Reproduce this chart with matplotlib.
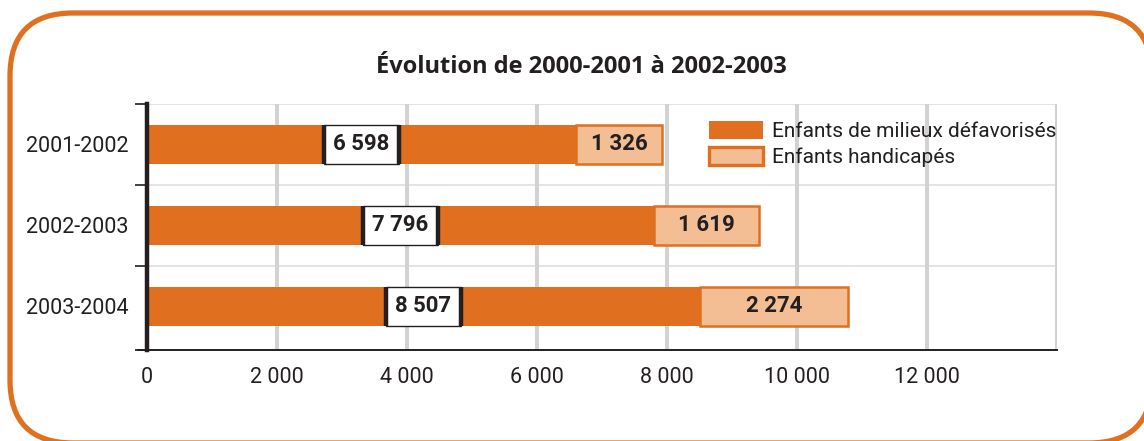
import matplotlib
matplotlib.use("Agg")
import matplotlib.pyplot as plt
from matplotlib.patches import Rectangle, FancyBboxPatch, Patch
from matplotlib.font_manager import fontManager
import numpy as np

categories = ["2001-2002", "2002-2003", "2003-2004"]
defavorises = [6598, 7796, 8507]
handicapes = [1326, 1619, 2274]
xticks = [0, 2000, 4000, 6000, 8000, 10000, 12000]
xtick_labels = ["0", "2 000", "4 000", "6 000", "8 000", "10 000", "12 000"]
title = "Évolution de 2000-2001 à 2002-2003"
legend_labels = ["Enfants de milieux défavorisés", "Enfants handicapés"]

ORANGE = "#e0701f"
LIGHT = "#f3be94"
DARK = "#231f20"
GRID_V = "#d2d2d2"
GRID_H = "#e2e2e2"

names = {f.name for f in fontManager.ttflist}
narrow = "Liberation Sans Narrow" if "Liberation Sans Narrow" in names else "Roboto"
plt.rcParams['font.family'] = [narrow, "DejaVu Sans"]

W, H = 1144, 441
fig = plt.figure(figsize=(W / 100, H / 100), dpi=100)

# background frame axes
bg = fig.add_axes([0, 0, 1, 1], zorder=-10)
bg.set_xlim(0, W)
bg.set_ylim(H, 0)
bg.axis("off")
bg.add_patch(FancyBboxPatch((10, 13), 1142, 430,
                            boxstyle="round,pad=0,rounding_size=63",
                            fc="white", ec=ORANGE, lw=3.8))

left, right, top, bottom = 147, 1057, 104, 350
ax = fig.add_axes([left / W, 1 - bottom / H, (right - left) / W, (bottom - top) / H])
ax.patch.set_alpha(0)

y = np.arange(len(categories))
bh = 0.48
ax.barh(y, defavorises, height=bh, color=ORANGE, zorder=3)
ax.barh(y, handicapes, left=defavorises, height=bh, color=LIGHT,
        edgecolor=ORANGE, linewidth=1.8, zorder=3)

boxw = 1150
for yi, d, h in zip(y, defavorises, handicapes):
    cx = d / 2
    ax.add_patch(Rectangle((cx - boxw / 2, yi - bh / 2), boxw, bh,
                           fc="white", ec=DARK, lw=1.0, zorder=4))
    ax.vlines([cx - boxw / 2, cx + boxw / 2], yi - bh / 2, yi + bh / 2,
              colors=DARK, lw=3.2, zorder=5)
    ax.text(cx, yi, f"{d:,}".replace(",", " "), ha="center", va="center",
            fontsize=16, fontweight="bold", color=DARK, zorder=6)
    ax.text(d + h / 2, yi, f"{h:,}".replace(",", " "), ha="center", va="center",
            fontsize=16, fontweight="bold", color=DARK, zorder=6)

ax.set_xlim(0, 14000)
ax.set_ylim(2.54, -0.5)
ax.set_xticks(xticks + [14000])
ax.set_xticklabels(xtick_labels + [""], fontsize=15.5, color=DARK)
ax.tick_params(axis="x", length=0, pad=12)
ax.set_yticks(y)
ax.set_yticklabels(categories, fontsize=15.5, color=DARK)
ax.tick_params(axis="y", which="major", length=0, pad=13)
ax.set_yticks([-0.5, 0.5, 1.5, 2.54], minor=True)
ax.tick_params(axis="y", which="minor", length=9, width=1.2, color=DARK)

for xv in xticks[1:] + [14000]:
    ax.axvline(xv, color=GRID_V, lw=2.9, zorder=1)
for yv in [-0.5, 0.5, 1.5]:
    ax.axhline(yv, color=GRID_H, lw=1.3, zorder=0.5)

for s in ["top", "right"]:
    ax.spines[s].set_visible(False)
ax.spines["left"].set_linewidth(3.2)
ax.spines["left"].set_color(DARK)
ax.spines["left"].set_zorder(7)
ax.spines["bottom"].set_linewidth(1.4)
ax.spines["bottom"].set_color(DARK)
ax.spines["bottom"].set_bounds(-140, 14000)

fig.text(581 / W, 1 - 67 / H, title, ha="center", va="center", fontsize=17,
         fontweight="bold", color=DARK, family=["Open Sans", "DejaVu Sans"])

handles = [Patch(fc=ORANGE, ec=ORANGE, lw=0),
           Patch(fc=LIGHT, ec=ORANGE, lw=2.4)]
leg = ax.legend(handles, legend_labels, loc="upper left",
                bbox_to_anchor=((694 - left) / (right - left), 1 - (106 - top) / (bottom - top)),
                frameon=False, fontsize=15, handlelength=2.6, handleheight=0.95,
                handletextpad=0.45, labelspacing=0.3, borderpad=0.2)
for t in leg.get_texts():
    t.set_color(DARK)

fig.savefig("out.png", dpi=100)
